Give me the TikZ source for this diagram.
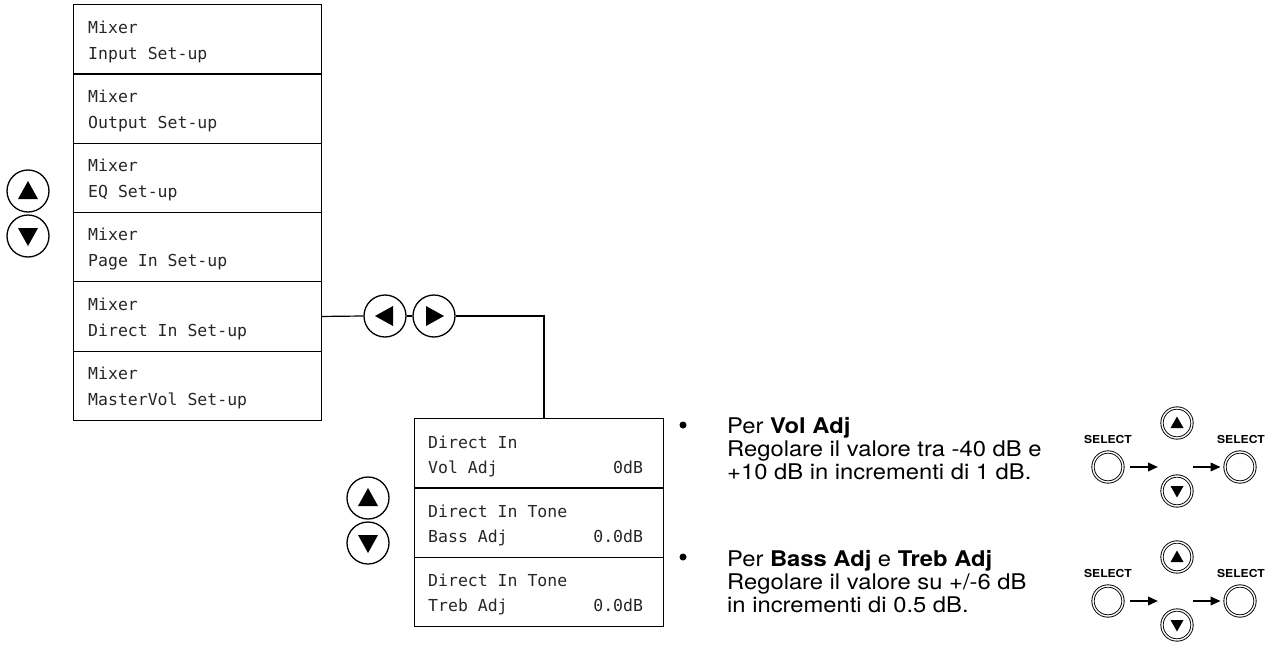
\documentclass[tikz,border=0pt]{standalone}
\usepackage{fontspec}
\setmainfont{TeX Gyre Heros}[FakeStretch=1.1]
\newfontfamily\lcdfont{DejaVu Sans Mono}
\usepackage{tikz}
\usetikzlibrary{positioning,arrows.meta,calc}

\begin{document}
\begin{tikzpicture}[x=1pt, y=-1pt,
  scatola/.style={draw, line width=1.2pt, minimum width=248pt, minimum height=69.3pt,
    anchor=north west, inner sep=0pt},
  lcd/.style={anchor=base west, inner sep=0pt, text=black!85,
    font=\lcdfont\fontsize{16.5}{16.5}\selectfont},
  linea/.style={line width=1.2pt},
  tasto/.style={circle, draw, line width=1.3pt, minimum size=42pt, inner sep=0pt},
  anello/.style={circle, draw, line width=0.9pt, double, double distance=1.4pt,
    minimum size=30pt, inner sep=0pt},
  testo/.style={anchor=base west, inner sep=0pt, font=\fontsize{21.6}{21.6}\selectfont},
  etichetta/.style={anchor=base, inner sep=0pt, font=\bfseries\fontsize{11}{11}\selectfont},
  freccina/.style={line width=2pt, -{Triangle[length=10pt, width=8.5pt]}},
  punto/.style={circle, fill, inner sep=0pt, minimum size=7pt}]

  \useasboundingbox (0,0) rectangle (1267,645);

  % Menu Mixer
  \def\H{69.3}
  \foreach \k/\riga in {1/Input Set-up, 2/Output Set-up, 3/EQ Set-up,
      4/Page In Set-up, 5/Direct In Set-up, 6/MasterVol Set-up}{
    \node[scatola] (m\k) at (73, {4+(\k-1)*\H}) {};
    \node[lcd] (m\k a) at ($(m\k.north west)+(15,29)$) {Mixer};
    \node[lcd] (m\k b) at ($(m\k.north west)+(15,55)$) {\riga};
  }

  % Tasti su / giu e sinistra / destra
  \node[tasto] (su) at (28,191) {};
  \node[tasto] (giu) at (28,236) {};
  \node[tasto] (sx) at (385,316) {};
  \node[tasto] (dx) at (434,316) {};

  % Menu Direct In
  \foreach \k/\uno/\due/\val in {1/Direct In/Vol Adj/0dB,
      2/Direct In Tone/Bass Adj/0.0dB, 3/Direct In Tone/Treb Adj/0.0dB}{
    \node[scatola, minimum width=249pt] (d\k) at (414, {418+(\k-1)*\H}) {};
    \node[lcd] (d\k a) at ($(d\k.north west)+(14,30)$) {\uno};
    \node[lcd] (d\k b) at ($(d\k.north west)+(14,55)$) {\due};
    \node[lcd, anchor=base east] (d\k c) at ($(d\k.north east)+(-21,55)$) {\val};
  }
  \node[tasto] (su2) at (368,498) {};
  \node[tasto] (giu2) at (368,543) {};

  % Triangoli nei tasti
  \foreach \n/\r in {su/0, giu/180, sx/90, dx/-90, su2/0, giu2/180}{
    \fill[shift={(\n.center)}, rotate=\r] (0,-10) -- (-10,8) -- (10,8) -- cycle;
  }

  % Collegamenti
  \coordinate (giunto) at ($(d1.north west)+(130,0)$);
  \draw[linea] (m5.east) -- (sx.west);
  \draw[linea] (sx.east) -- (dx.west);
  \draw[linea] (dx.east) -| (giunto);

  % Note
  \node[punto] (p1) at (683,425) {};
  \node[testo] (t1a) at (727,433) {Per \textbf{Vol Adj}};
  \node[testo] (t1b) at (727,456) {Regolare il valore tra -40 dB e};
  \node[testo] (t1c) at (727,479) {+10 dB in incrementi di 1 dB.};
  \node[punto] (p2) at (683,557) {};
  \node[testo] (t2a) at (727,566) {Per \textbf{Bass Adj} e \textbf{Treb Adj}};
  \node[testo] (t2b) at (727,589) {Regolare il valore su +/-6 dB};
  \node[testo] (t2c) at (727,612) {in incrementi di 0.5 dB.};

  % Sequenze SELECT
  \foreach \k/\dy in {1/0, 2/134}{
    \node[anello] (sa\k) at (1108, {467+\dy}) {};
    \node[anello] (ps\k) at (1177, {423+\dy}) {};
    \node[anello] (pg\k) at (1177, {491+\dy}) {};
    \node[anello] (sb\k) at (1240, {467+\dy}) {};
    \fill[shift={(ps\k.center)}] (0,-6.5) -- (-6.5,5) -- (6.5,5) -- cycle;
    \fill[shift={(pg\k.center)}] (0,6.5) -- (-6.5,-5) -- (6.5,-5) -- cycle;
    \node[etichetta] (la\k) at ($(sa\k.north)+(0,-8)$) {SELECT};
    \node[etichetta] (lb\k) at ($(sb\k.north)+(1,-8)$) {SELECT};
    \draw[freccina, shorten <=7pt, shorten >=19pt] (sa\k.east) -- (sa\k.east -| ps\k.center);
    \draw[freccina, shorten <=16pt, shorten >=4pt] (sa\k.east -| ps\k.center) -- (sb\k.west);
  }
\end{tikzpicture}
\end{document}
